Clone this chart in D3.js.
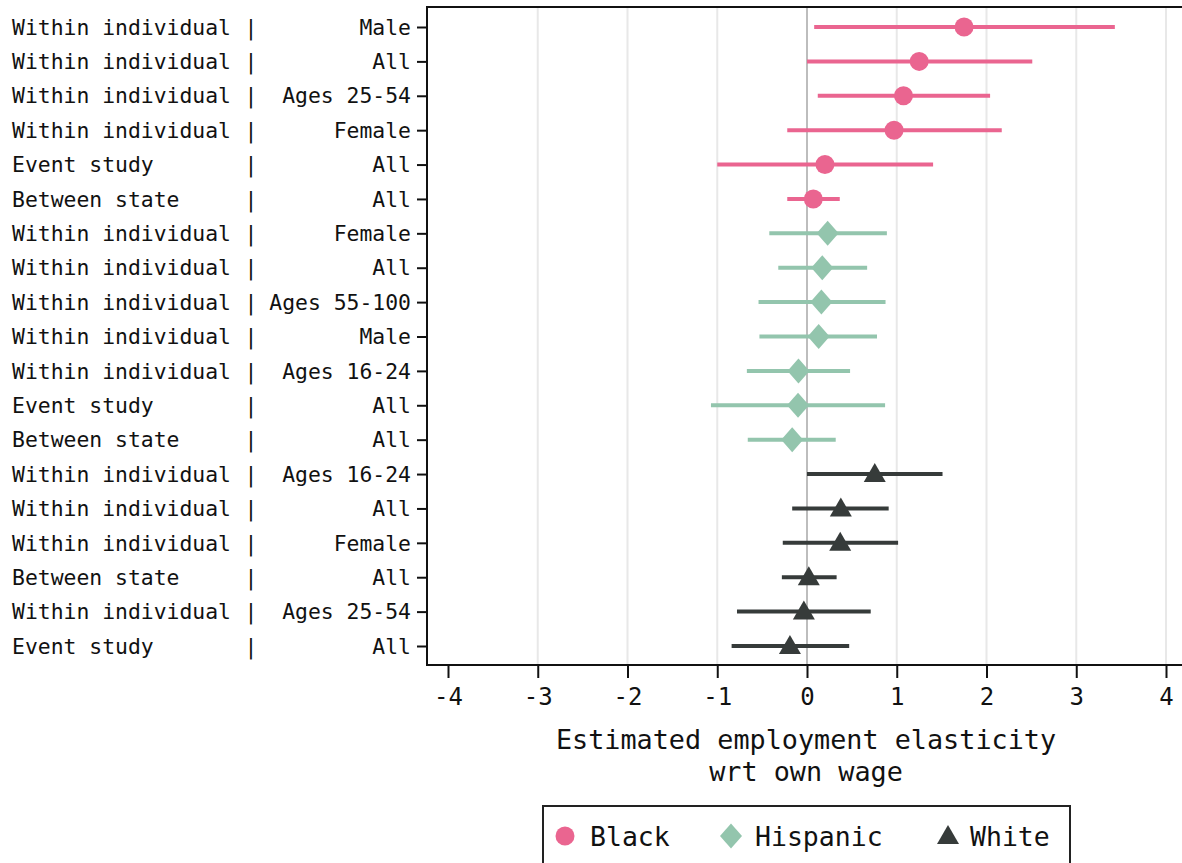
<!DOCTYPE html>
<html>
<head>
<meta charset="utf-8">
<script src="https://cdn.jsdelivr.net/npm/d3@7"></script>
<style>
  html, body { margin: 0; padding: 0; background: #fff; overflow: hidden; }
  text { font-family: "DejaVu Sans Mono", monospace; }
</style>
</head>
<body>
<svg id="chart" width="1182" height="863"></svg>
<script>
// ---- data ----
const methods = [
  "Within individual", "Within individual", "Within individual", "Within individual", "Event study", "Between state",
  "Within individual", "Within individual", "Within individual", "Within individual", "Within individual", "Event study", "Between state",
  "Within individual", "Within individual", "Within individual", "Between state", "Within individual", "Event study"
];
const groups = [
  "Male", "All", "Ages 25-54", "Female", "All", "All",
  "Female", "All", "Ages 55-100", "Male", "Ages 16-24", "All", "All",
  "Ages 16-24", "All", "Female", "All", "Ages 25-54", "All"
];
const races = [
  "Black", "Black", "Black", "Black", "Black", "Black",
  "Hispanic", "Hispanic", "Hispanic", "Hispanic", "Hispanic", "Hispanic", "Hispanic",
  "White", "White", "White", "White", "White", "White"
];
const estimates = [1.75, 1.25, 1.075, 0.97, 0.20, 0.07,
  0.23, 0.17, 0.16, 0.13, -0.095, -0.10, -0.165,
  0.755, 0.377, 0.37, 0.02, -0.035, -0.19];
const ciLow = [0.08, 0.0, 0.12, -0.22, -1.00, -0.22,
  -0.42, -0.32, -0.54, -0.53, -0.67, -1.07, -0.66,
  0.0, -0.165, -0.27, -0.28, -0.78, -0.84];
const ciHigh = [3.43, 2.51, 2.04, 2.17, 1.405, 0.365,
  0.89, 0.67, 0.875, 0.78, 0.48, 0.87, 0.32,
  1.51, 0.91, 1.015, 0.33, 0.71, 0.47];
const xTicks = [-4, -3, -2, -1, 0, 1, 2, 3, 4];
const gridTicks = [-3, -2, -1, 1, 2, 3, 4];
const legendRaces = ["Black", "Hispanic", "White"];
const colors = { Black: "#EA6590", Hispanic: "#93C5AD", White: "#363B3A" };

// ---- layout ----
const svg = d3.select("#chart");
const plotLeft = 427, plotTop = 7, plotBottom = 665;
const x = d3.scaleLinear().domain([-4, 4]).range([448, 1166]);
const plotRight = x(4.23);
const y = d3.scalePoint().domain(d3.range(methods.length)).range([27, 646]);

// gridlines
svg.append("g").selectAll("line").data(gridTicks).join("line")
  .attr("x1", d => x(d)).attr("x2", d => x(d))
  .attr("y1", plotTop).attr("y2", plotBottom)
  .attr("stroke", "#e8e8e8").attr("stroke-width", 2);
svg.append("line")
  .attr("x1", x(0)).attr("x2", x(0)).attr("y1", plotTop).attr("y2", plotBottom)
  .attr("stroke", "#bdbdbd").attr("stroke-width", 2);

// frame
svg.append("rect")
  .attr("x", plotLeft).attr("y", plotTop)
  .attr("width", plotRight - plotLeft).attr("height", plotBottom - plotTop)
  .attr("fill", "none").attr("stroke", "#111").attr("stroke-width", 2);

// x axis
const xAxis = d3.axisBottom(x).tickValues(xTicks).tickSize(13).tickPadding(10)
  .tickFormat(d => d < 0 ? "-" + Math.abs(d) : String(d));
const gx = svg.append("g").attr("transform", `translate(0,${plotBottom})`).call(xAxis);
gx.select(".domain").remove();
gx.selectAll(".tick line").attr("stroke", "#111").attr("stroke-width", 2);
gx.selectAll(".tick text").attr("font-size", 24).attr("fill", "#111")
  .attr("font-family", "DejaVu Sans Mono").attr("dy", "0.72em");

// axis title
svg.append("text").attr("x", 806).attr("y", 749).attr("text-anchor", "middle")
  .attr("font-size", 26.8).attr("fill", "#111").text("Estimated employment elasticity");
svg.append("text").attr("x", 806).attr("y", 781).attr("text-anchor", "middle")
  .attr("font-size", 26.8).attr("fill", "#111").text("wrt own wage");

// y axis ticks & labels
const yAxis = d3.axisLeft(y).tickSize(10).tickFormat("");
const gy = svg.append("g").attr("transform", `translate(${plotLeft},0)`).call(yAxis);
gy.select(".domain").remove();
gy.selectAll(".tick line").attr("stroke", "#111").attr("stroke-width", 2);

const labels = svg.append("g").attr("font-size", 21.4).attr("fill", "#111");
labels.selectAll("text.m").data(methods).join("text").attr("class", "m")
  .attr("x", 12).attr("y", (d, i) => y(i)).attr("dy", "0.36em").text(d => d);
labels.selectAll("text.p").data(methods).join("text").attr("class", "p")
  .attr("x", 251).attr("y", (d, i) => y(i)).attr("dy", "0.36em").attr("text-anchor", "middle").text("|");
labels.selectAll("text.g").data(groups).join("text").attr("class", "g")
  .attr("x", 411).attr("y", (d, i) => y(i)).attr("dy", "0.36em").attr("text-anchor", "end").text(d => d);

// CIs
const idx = d3.range(methods.length);
svg.append("g").selectAll("line").data(idx).join("line")
  .attr("x1", i => x(ciLow[i])).attr("x2", i => x(ciHigh[i]))
  .attr("y1", i => y(i)).attr("y2", i => y(i))
  .attr("stroke", i => colors[races[i]]).attr("stroke-width", 4);

// markers
function markerPath(race) {
  if (race === "Black") return d3.symbol(d3.symbolCircle, Math.PI * 9.5 * 9.5)();
  if (race === "Hispanic") return "M0,-12.5L11,0L0,12.5L-11,0Z";
  return "M0,-11L11,8L-11,8Z";
}
svg.append("g").selectAll("path").data(idx).join("path")
  .attr("d", i => markerPath(races[i]))
  .attr("transform", i => `translate(${x(estimates[i])},${y(i)})`)
  .attr("fill", i => colors[races[i]]);

// legend
const lg = svg.append("g");
lg.append("rect").attr("x", 543).attr("y", 806).attr("width", 527).attr("height", 70)
  .attr("fill", "#fff").attr("stroke", "#222").attr("stroke-width", 2);
const legendSymX = [565, 731, 948];
const legendTextX = [590, 755, 970];
legendRaces.forEach((r, k) => {
  lg.append("path").attr("d", markerPath(r))
    .attr("transform", `translate(${legendSymX[k]},836)`).attr("fill", colors[r]);
  lg.append("text").attr("x", legendTextX[k]).attr("y", 836).attr("dy", "0.36em")
    .attr("font-size", 26.5).attr("fill", "#111").text(r);
});
</script>
</body>
</html>
